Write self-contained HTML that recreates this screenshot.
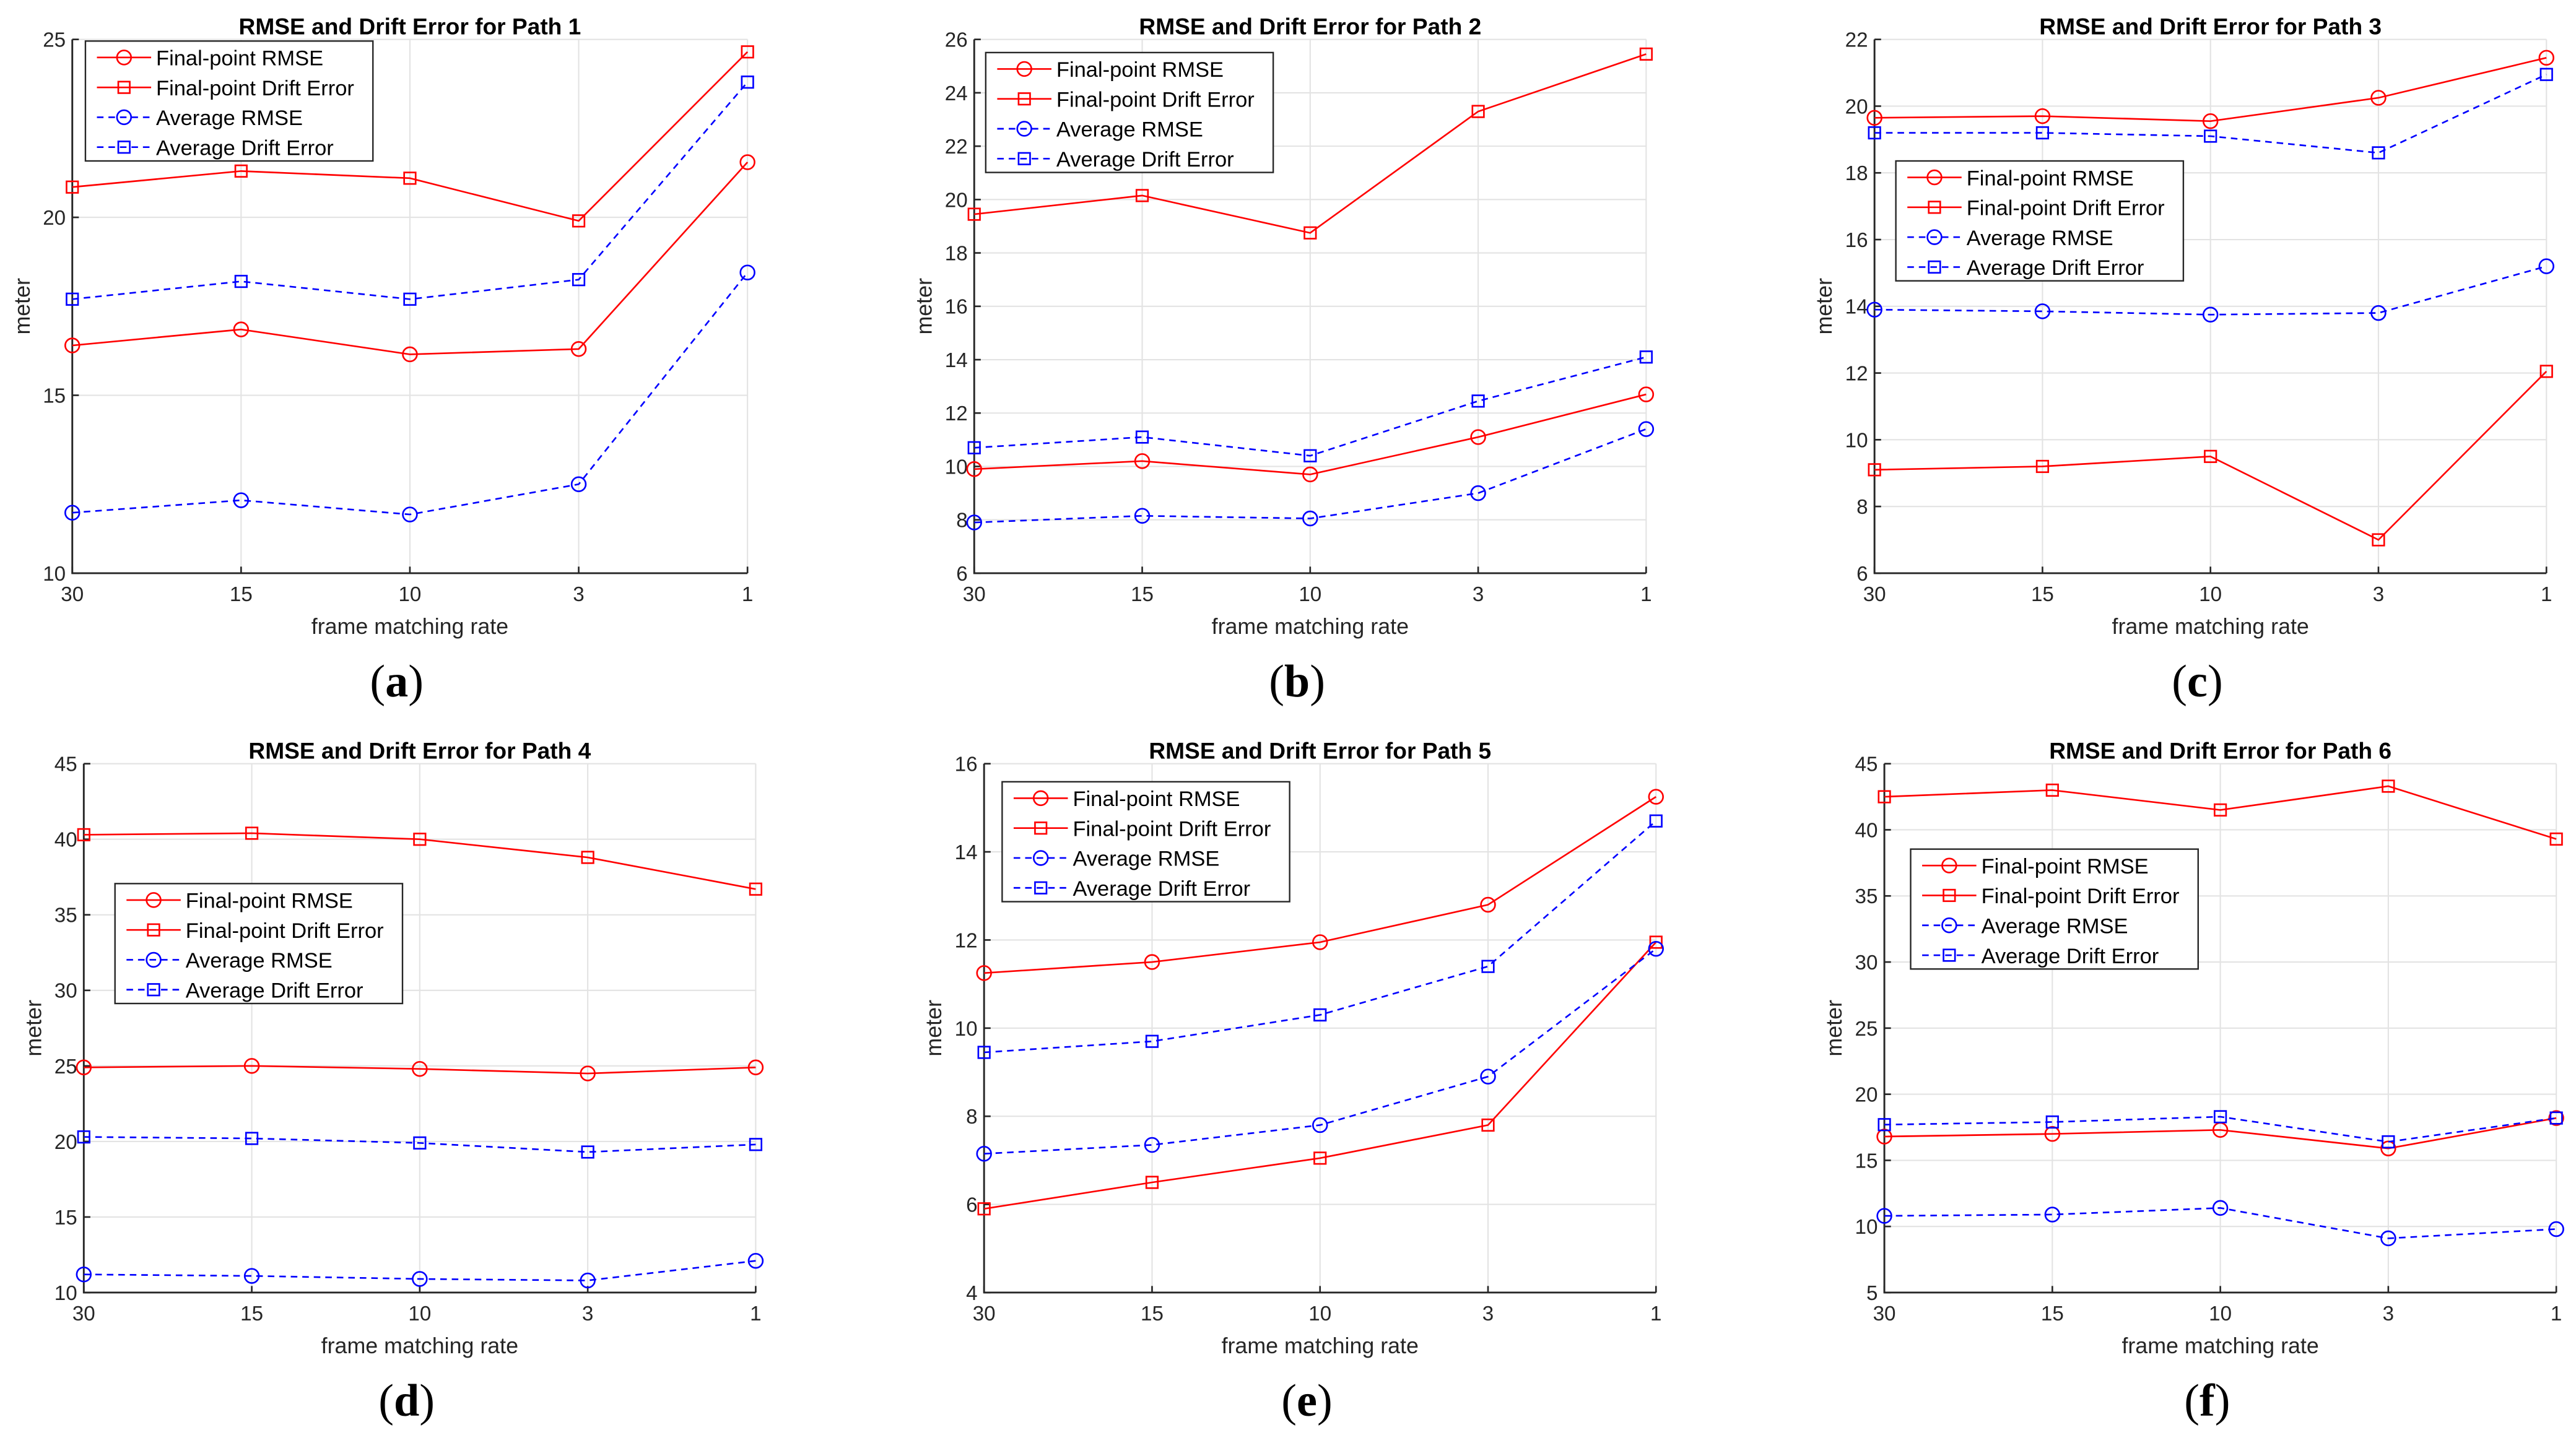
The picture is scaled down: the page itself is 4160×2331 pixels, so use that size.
<!DOCTYPE html>
<html><head><meta charset="utf-8"><style>
html,body{margin:0;padding:0;background:#fff;}
svg{display:block;}
text{font-family:"Liberation Sans",Arial,sans-serif;}
text.serif{font-family:"Liberation Serif",serif;}
</style></head><body>
<svg id="fig" width="4160" height="2331" viewBox="0 0 1568 878.6" preserveAspectRatio="none" xmlns="http://www.w3.org/2000/svg"></svg>
<script>
const categories = ["30","15","10","3","1"];
const seriesNames = ["Final-point RMSE","Final-point Drift Error","Average RMSE","Average Drift Error"];
const titles = ["RMSE and Drift Error for Path 1","RMSE and Drift Error for Path 2","RMSE and Drift Error for Path 3","RMSE and Drift Error for Path 4","RMSE and Drift Error for Path 5","RMSE and Drift Error for Path 6"];
const panelLabels = ["(a)","(b)","(c)","(d)","(e)","(f)"];
const yTicks1 = [10,15,20,25];
const yTicks2 = [6,8,10,12,14,16,18,20,22,24,26];
const yTicks3 = [6,8,10,12,14,16,18,20,22];
const yTicks4 = [10,15,20,25,30,35,40,45];
const yTicks5 = [4,6,8,10,12,14,16];
const yTicks6 = [5,10,15,20,25,30,35,40,45];
const p1FpRmse = [16.4,16.85,16.15,16.3,21.55];
const p1FpDrift = [20.85,21.3,21.1,19.9,24.65];
const p1AvgRmse = [11.7,12.05,11.65,12.5,18.45];
const p1AvgDrift = [17.7,18.2,17.7,18.25,23.8];
const p2FpRmse = [9.9,10.2,9.7,11.1,12.7];
const p2FpDrift = [19.45,20.15,18.75,23.3,25.45];
const p2AvgRmse = [7.9,8.15,8.05,9.0,11.4];
const p2AvgDrift = [10.7,11.1,10.4,12.45,14.1];
const p3FpRmse = [19.65,19.7,19.55,20.25,21.45];
const p3FpDrift = [9.1,9.2,9.5,7.0,12.05];
const p3AvgRmse = [13.9,13.85,13.75,13.8,15.2];
const p3AvgDrift = [19.2,19.2,19.1,18.6,20.95];
const p4FpRmse = [24.9,25.0,24.8,24.5,24.9];
const p4FpDrift = [40.3,40.4,40.0,38.8,36.7];
const p4AvgRmse = [11.2,11.1,10.9,10.8,12.1];
const p4AvgDrift = [20.3,20.2,19.9,19.3,19.8];
const p5FpRmse = [11.25,11.5,11.95,12.8,15.25];
const p5FpDrift = [5.9,6.5,7.05,7.8,11.95];
const p5AvgRmse = [7.15,7.35,7.8,8.9,11.8];
const p5AvgDrift = [9.45,9.7,10.3,11.4,14.7];
const p6FpRmse = [16.8,17.0,17.3,15.9,18.2];
const p6FpDrift = [42.5,43.0,41.5,43.3,39.3];
const p6AvgRmse = [10.8,10.9,11.4,9.1,9.8];
const p6AvgDrift = [17.7,17.9,18.3,16.4,18.2];

const NS="http://www.w3.org/2000/svg";
const svg=document.getElementById('fig');
function mk(tag,attrs,parent){const e=document.createElementNS(NS,tag);for(const k in attrs)e.setAttribute(k,attrs[k]);(parent||svg).appendChild(e);return e;}

const panels=[
 {x0:44,x1:455,y0:24,y1:349,ticks:yTicks1,data:[p1FpRmse,p1FpDrift,p1AvgRmse,p1AvgDrift],leg:[52,25]},
 {x0:593,x1:1002,y0:24,y1:349,ticks:yTicks2,data:[p2FpRmse,p2FpDrift,p2AvgRmse,p2AvgDrift],leg:[600,32]},
 {x0:1141,x1:1550,y0:24,y1:349,ticks:yTicks3,data:[p3FpRmse,p3FpDrift,p3AvgRmse,p3AvgDrift],leg:[1154,98]},
 {x0:51,x1:460,y0:465,y1:787,ticks:yTicks4,data:[p4FpRmse,p4FpDrift,p4AvgRmse,p4AvgDrift],leg:[70,538]},
 {x0:599,x1:1008,y0:465,y1:787,ticks:yTicks5,data:[p5FpRmse,p5FpDrift,p5AvgRmse,p5AvgDrift],leg:[610,476]},
 {x0:1147,x1:1556,y0:465,y1:787,ticks:yTicks6,data:[p6FpRmse,p6FpDrift,p6AvgRmse,p6AvgDrift],leg:[1163,517]}
];
const styles=[{c:'#ff0000',dash:'',m:'circle'},{c:'#ff0000',dash:'',m:'square'},{c:'#0000ff',dash:'4,3',m:'circle'},{c:'#0000ff',dash:'4,3',m:'square'}];

function marker(g,type,x,y,c){
  let e;
  if(type==='circle') e=mk('circle',{cx:x,cy:y,r:4.3,fill:'none',stroke:c,'stroke-width':1},g);
  else e=mk('rect',{x:x-3.5,y:y-3.5,width:7,height:7,fill:'none',stroke:c,'stroke-width':1},g);
  return e;
}

panels.forEach((p,pi)=>{
  const g=mk('g',{});
  
  
  const ymin=p.ticks[0],ymax=p.ticks[p.ticks.length-1];
  const xs=i=>p.x0+(p.x1-p.x0)*i/(categories.length-1);
  const ys=v=>p.y1-(v-ymin)/(ymax-ymin)*(p.y1-p.y0);
  categories.forEach((c,i)=>{
    const l=mk('line',{x1:xs(i),x2:xs(i),y1:p.y0,y2:p.y1,stroke:'#e3e3e3','stroke-width':0.8},g);
    
    
  });
  p.ticks.forEach(t=>{
    const l=mk('line',{x1:p.x0,x2:p.x1,y1:ys(t),y2:ys(t),stroke:'#e3e3e3','stroke-width':0.8},g);
    
    
  });
  const ax=mk('path',{d:`M${p.x0},${p.y0}V${p.y1}H${p.x1}`,fill:'none',stroke:'#262626','stroke-width':1.1},g);
  
  
  p.ticks.forEach(t=>{
    mk('line',{x1:p.x0,x2:p.x0+4,y1:ys(t),y2:ys(t),stroke:'#262626','stroke-width':1},g);
    const tx=mk('text',{x:p.x0-4,y:ys(t)+4.5,'text-anchor':'end','font-size':12.5,fill:'#262626'},g);
    tx.textContent=t;
    
    
  });
  categories.forEach((c,i)=>{
    mk('line',{x1:xs(i),x2:xs(i),y1:p.y1,y2:p.y1-4,stroke:'#262626','stroke-width':1},g);
    const tx=mk('text',{x:xs(i),y:p.y1+17,'text-anchor':'middle','font-size':12.5,fill:'#262626'},g);
    tx.textContent=c;
    
    
  });
  const cx=(p.x0+p.x1)/2;
  const ti=mk('text',{x:cx,y:p.y0-3,'text-anchor':'middle','font-size':14,'font-weight':'bold',fill:'#000'},g);
  ti.textContent=titles[pi];
  
  
  const xl=mk('text',{x:cx,y:p.y1+37,'text-anchor':'middle','font-size':13.5,fill:'#262626'},g);
  xl.textContent='frame matching rate';
  
  
  const yl=mk('text',{x:0,y:0,'text-anchor':'middle','font-size':13.5,fill:'#262626',transform:`translate(${p.x0-26},${(p.y0+p.y1)/2}) rotate(-90)`},g);
  yl.textContent='meter';
  
  
  const pl=mk('text',{x:cx-8,y:p.y1+75,'text-anchor':'middle','font-size':28,fill:'#000','class':'serif'},g);
  pl.innerHTML='(<tspan font-weight="bold">'+panelLabels[pi].slice(1,2)+'</tspan>)';
  
  
  p.data.forEach((arr,si)=>{
    const st=styles[si];
    const sg=mk('g',{},g);
    
    
    const pts=arr.map((v,i)=>xs(i)+','+ys(v)).join(' ');
    mk('polyline',{points:pts,fill:'none',stroke:st.c,'stroke-width':1,'stroke-dasharray':st.dash},sg);
    arr.forEach((v,i)=>{
      const m=marker(sg,st.m,xs(i),ys(v),st.c);
      
      
    });
  });
  const lx=p.leg[0],ly=p.leg[1];
  const lg=mk('g',{},g);
  
  
  mk('rect',{x:lx,y:ly,width:175,height:73,fill:'#fff',stroke:'#262626','stroke-width':0.9},lg);
  seriesNames.forEach((n,si)=>{
    const st=styles[si];
    const yy=ly+10+si*18.2;
    const eg=mk('g',{},lg);
    
    
    mk('line',{x1:lx+7,x2:lx+40,y1:yy,y2:yy,stroke:st.c,'stroke-width':1,'stroke-dasharray':st.dash},eg);
    marker(eg,st.m,lx+23.5,yy,st.c);
    const t=mk('text',{x:lx+43,y:yy+4.8,'font-size':13,fill:'#000'},eg);
    t.textContent=n;
  });
});
</script>
</body></html>
